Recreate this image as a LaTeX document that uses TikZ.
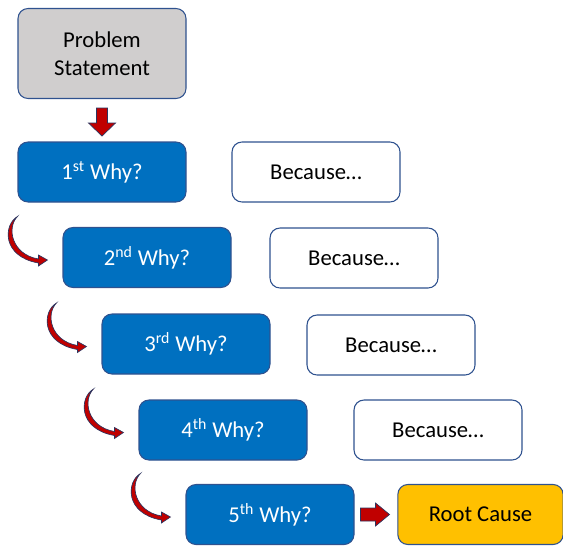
\documentclass[tikz,border=0pt]{standalone}
\usepackage{fontspec}
\setmainfont{Carlito}
\begin{document}
\definecolor{boxline}{HTML}{2F528F}
\definecolor{whyblue}{HTML}{0070C0}
\definecolor{probgray}{HTML}{D0CECE}
\definecolor{rootgold}{HTML}{FFC000}
\definecolor{arrowred}{HTML}{C00000}
\definecolor{arrownavy}{HTML}{2A3560}
\begin{tikzpicture}[x=0.75pt,y=-0.75pt,
  basebox/.style={draw=boxline,line width=0.8pt,rounded corners=7.5pt,
    minimum width=126pt,minimum height=45pt,inner sep=0pt,
    font=\fontsize{17}{21}\selectfont,align=center},
  probbox/.style={basebox,fill=probgray,text=black,minimum height=67.5pt},
  whybox/.style={basebox,fill=whyblue,text=white},
  becbox/.style={basebox,fill=white,text=black},
  rootbox/.style={basebox,fill=rootgold,text=black,minimum width=124pt},
  blockarrow/.style={fill=arrowred,draw=arrownavy,line width=0.5pt},
  curvearrow/.pic={
    \path[blockarrow] (0,0) .. controls (-14,8) and (-16,40) .. (21,46.5)
      -- (21,49.5) -- (30,43.5) -- (21,38.5) -- (21,42.5)
      .. controls (-6,38) and (-11,11) .. (0,0) -- cycle;
  }]
\useasboundingbox (0,0) rectangle (563,546);

% boxes
\node[probbox] (prob) at (102,53.5) {Problem\\Statement};
\node[whybox] (why1) at (102,172) {1\textsuperscript{st} Why?};
\node[becbox] (bec1) at (316,172) {Because\ldots};
\node[whybox] (why2) at (147,257.5) {2\textsuperscript{nd} Why?};
\node[becbox] (bec2) at (354,258) {Because\ldots};
\node[whybox] (why3) at (186,344) {3\textsuperscript{rd} Why?};
\node[becbox] (bec3) at (391,345) {Because\ldots};
\node[whybox] (why4) at (223,430) {4\textsuperscript{th} Why?};
\node[becbox] (bec4) at (438,430) {Because\ldots};
\node[whybox] (why5) at (270,514.5) {5\textsuperscript{th} Why?};
\node[rootbox] (root) at (480.5,514.5) {Root Cause};

% block arrow from the problem statement down to the first why
\begin{scope}[shift={(prob.south)}]
  \path[blockarrow] (-5.5,9) -- (5.5,9) -- (5.5,24) -- (13.5,24) -- (0,37)
    -- (-13.5,24) -- (-5.5,24) -- cycle;
\end{scope}

% block arrow from the fifth why to the root cause
\begin{scope}[shift={(why5.east)}]
  \path[blockarrow] (6,-6.5) -- (21,-6.5) -- (21,-11.5) -- (35,0)
    -- (21,11.5) -- (21,6.5) -- (6,6.5) -- cycle;
\end{scope}

% curved arrows leading into each following why
\foreach \n in {why2,why3,why4,why5}
  \pic at ([xshift=-33.75pt,yshift=30.75pt]\n.west) {curvearrow};
\end{tikzpicture}
\end{document}
